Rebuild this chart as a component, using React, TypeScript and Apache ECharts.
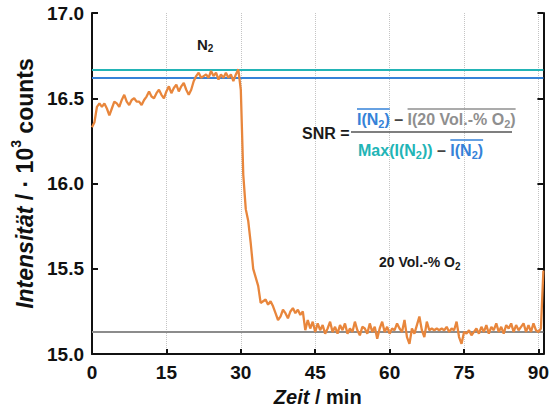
import React, { useEffect, useRef } from "react";
import * as echarts from "echarts";

// ---- data ----
const sampleStepMin = 0.5; // sampling grid of the time axis (min)
const intensity = [
  16.33, 16.36, 16.45, 16.47, 16.45, 16.47, 16.44, 16.40, 16.44, 16.48,
  16.47, 16.45, 16.49, 16.52, 16.48, 16.46, 16.49, 16.50, 16.48, 16.48,
  16.46, 16.49, 16.51, 16.54, 16.51, 16.50, 16.53, 16.55, 16.52, 16.50,
  16.54, 16.57, 16.53, 16.56, 16.58, 16.54, 16.57, 16.59, 16.55, 16.52,
  16.55, 16.60, 16.63, 16.65, 16.62, 16.63, 16.64, 16.62, 16.66, 16.63,
  16.65, 16.61, 16.64, 16.62, 16.65, 16.62, 16.64, 16.60, 16.64, 16.67,
  16.55, 16.05, 15.85, 15.78, 15.65, 15.50, 15.45, 15.40, 15.30, 15.31,
  15.32, 15.29, 15.31, 15.28, 15.24, 15.20, 15.22, 15.26, 15.24, 15.21,
  15.25, 15.27, 15.24, 15.26, 15.23, 15.25, 15.14, 15.20, 15.15, 15.19,
  15.13, 15.18, 15.14, 15.17, 15.12, 15.15, 15.19, 15.13, 15.16, 15.12,
  15.17, 15.14, 15.18, 15.12, 15.15, 15.13, 15.19, 15.14, 15.11, 15.16,
  15.15, 15.12, 15.18, 15.13, 15.16, 15.09, 15.15, 15.19, 15.13, 15.16,
  15.12, 15.15, 15.14, 15.18, 15.15, 15.13, 15.20, 15.10, 15.06, 15.15,
  15.12, 15.17, 15.22, 15.14, 15.10, 15.19, 15.14, 15.15, 15.14, 15.15,
  15.14, 15.15, 15.14, 15.16, 15.13, 15.15, 15.14, 15.19, 15.10, 15.06,
  15.13, 15.12, 15.14, 15.11, 15.13, 15.15, 15.12, 15.16, 15.13, 15.17,
  15.12, 15.16, 15.14, 15.18, 15.13, 15.16, 15.12, 15.17, 15.15, 15.18,
  15.13, 15.17, 15.14, 15.16, 15.18, 15.13, 15.17, 15.13, 15.18, 15.14,
  15.13, 15.15, 15.49,
];
const n2MaxLevel = 16.67;
const n2MeanLevel = 16.617;
const o2MeanLevel = 15.13;
const xTickLabels = [0, 15, 30, 45, 60, 75, 90];
const yRange = [15.0, 17.0];
const xRange = [0, 91];

const FONT = '"Liberation Sans", Arial, Helvetica, sans-serif';
const BLUE = "#3582d8";
const TEAL = "#22b4b6";
const ORANGE = "#e8863c";
const GREYLINE = "#8c8c8c";
const GREYTXT = "#8f8f8f";
const DARK = "#1a1a1a";

type Tok = { t: string; c: string; sub?: boolean };

export default function App() {
  const ref = useRef<HTMLDivElement>(null);

  useEffect(() => {
    if (!ref.current) return;
    const chart = echarts.init(ref.current, undefined, { renderer: "svg" });
    const canvas = document.createElement("canvas");
    const ctx = canvas.getContext("2d")!;
    const measure = (text: string, size: number) => {
      ctx.font = `bold ${size}px ${FONT}`;
      return ctx.measureText(text).width;
    };
    const row = (toks: Tok[], x0: number, y: number, size: number) => {
      const subSize = Math.round(size * 0.68);
      const els: any[] = [];
      let x = x0;
      for (const tk of toks) {
        const s = tk.sub ? subSize : size;
        els.push({
          type: "text",
          x,
          y: tk.sub ? y + size * 0.3 : y,
          z: 100,
          style: {
            text: tk.t,
            fill: tk.c,
            fontSize: s,
            fontWeight: "bold",
            fontFamily: FONT,
            align: "left",
            verticalAlign: "middle",
          },
        });
        x += measure(tk.t, s);
      }
      return { els, x1: x };
    };
    const overline = (x1: number, x2: number, y: number, color: string) => ({
      type: "line",
      z: 100,
      shape: { x1, y1: y, x2, y2: y },
      style: { stroke: color, lineWidth: 1.5 },
    });

    const graphics: any[] = [];
    const fs = 16;
    // SNR =
    graphics.push(...row([{ t: "SNR =", c: DARK }], 302, 133, fs).els);
    graphics.push({
      type: "line",
      z: 100,
      shape: { x1: 351, y1: 132, x2: 512, y2: 132 },
      style: { stroke: "#555", lineWidth: 1.5 },
    });
    // numerator
    const numY = 119;
    const a = row([{ t: "I(N", c: BLUE }, { t: "2", c: BLUE, sub: true }, { t: ")", c: BLUE }], 357, numY, fs);
    graphics.push(...a.els, overline(357, a.x1, numY - 10, BLUE));
    const d1 = row([{ t: " – ", c: "#444" }], a.x1, numY, fs);
    graphics.push(...d1.els);
    const b = row([{ t: "I(20 Vol.-% O", c: GREYTXT }, { t: "2", c: GREYTXT, sub: true }, { t: ")", c: GREYTXT }], d1.x1, numY, fs);
    graphics.push(...b.els, overline(d1.x1, b.x1, numY - 10, GREYTXT));
    // denominator
    const denY = 150;
    const c = row([{ t: "Max(I(N", c: TEAL }, { t: "2", c: TEAL, sub: true }, { t: "))", c: TEAL }], 358, denY, fs);
    graphics.push(...c.els);
    const d2 = row([{ t: " – ", c: "#444" }], c.x1, denY, fs);
    graphics.push(...d2.els);
    const e = row([{ t: "I(N", c: BLUE }, { t: "2", c: BLUE, sub: true }, { t: ")", c: BLUE }], d2.x1, denY, fs);
    graphics.push(...e.els, overline(d2.x1, e.x1, denY - 10, BLUE));
    // annotations
    graphics.push(...row([{ t: "N", c: DARK }, { t: "2", c: DARK, sub: true }], 197, 44, 15).els);
    graphics.push(...row([{ t: "20 Vol.-% O", c: DARK }, { t: "2", c: DARK, sub: true }], 379, 262, 14).els);

    const data = intensity.map((v, i) => [i * sampleStepMin, v]);

    const axisLineStyle = { color: "#111", width: 2 };
    const yBase = {
      type: "value" as const,
      min: yRange[0],
      max: yRange[1],
      interval: 0.5,
      axisLine: { show: true, lineStyle: axisLineStyle },
      axisTick: { show: true, inside: true, length: 6, lineStyle: axisLineStyle },
      splitLine: { show: false },
    };

    chart.setOption({
      animation: false,
      grid: { left: 92, right: 5, top: 13, bottom: 57, containLabel: false },
      xAxis: {
        type: "value",
        min: xRange[0],
        max: xRange[1],
        interval: 15,
        axisLine: { show: true, onZero: false, lineStyle: axisLineStyle },
        axisTick: { show: true, inside: true, length: 5, lineStyle: axisLineStyle },
        axisLabel: {
          margin: 9,
          fontSize: 19,
          fontWeight: "bold",
          fontFamily: FONT,
          color: "#111",
          formatter: (v: number) => (xTickLabels.includes(v) ? String(v) : ""),
        },
        splitLine: { show: true, lineStyle: { type: "dotted", color: "#c4c4c4", width: 1 } },
        name: "{i|Zeit}{n| / min}",
        nameLocation: "middle",
        nameGap: 32,
        nameTextStyle: {
          rich: {
            i: { fontSize: 20, fontWeight: "bold", fontStyle: "italic", fontFamily: FONT, color: "#111" },
            n: { fontSize: 20, fontWeight: "bold", fontFamily: FONT, color: "#111" },
          },
        },
      },
      yAxis: [
        {
          ...yBase,
          position: "left",
          axisLabel: {
            margin: 8,
            fontSize: 19,
            fontWeight: "bold",
            fontFamily: FONT,
            color: "#111",
            formatter: (v: number) => v.toFixed(1),
          },
          name: "{i|Intensität}{n| / · 10}{s|3}{n| counts}",
          nameLocation: "middle",
          nameGap: 49,
          nameTextStyle: {
            rich: {
              i: { fontSize: 23, fontWeight: "bold", fontStyle: "italic", fontFamily: FONT, color: "#111", lineHeight: 27, verticalAlign: "bottom" },
              n: { fontSize: 23, fontWeight: "bold", fontFamily: FONT, color: "#111", lineHeight: 27, verticalAlign: "bottom" },
              s: { fontSize: 14, fontWeight: "bold", fontFamily: FONT, color: "#111", lineHeight: 27, verticalAlign: "top" },
            },
          },
        },
        {
          ...yBase,
          position: "right",
          axisLabel: { show: false },
        },
      ],
      series: [
        {
          type: "line",
          data,
          showSymbol: false,
          symbol: "none",
          lineStyle: { color: ORANGE, width: 2.3 },
          z: 3,
          markLine: {
            silent: true,
            symbol: "none",
            label: { show: false },
            z: 2,
            data: [
              { yAxis: o2MeanLevel, lineStyle: { color: GREYLINE, width: 2, type: "solid" } },
              { yAxis: n2MeanLevel, lineStyle: { color: BLUE, width: 2, type: "solid" } },
              { yAxis: n2MaxLevel, lineStyle: { color: TEAL, width: 2, type: "solid" } },
            ],
          },
        },
      ],
      graphic: graphics,
    });
    return () => chart.dispose();
  }, []);

  return (
    <div
      ref={ref}
      style={{ position: "fixed", left: 0, top: 0, width: 552, height: 412, background: "#fff" }}
    />
  );
}
